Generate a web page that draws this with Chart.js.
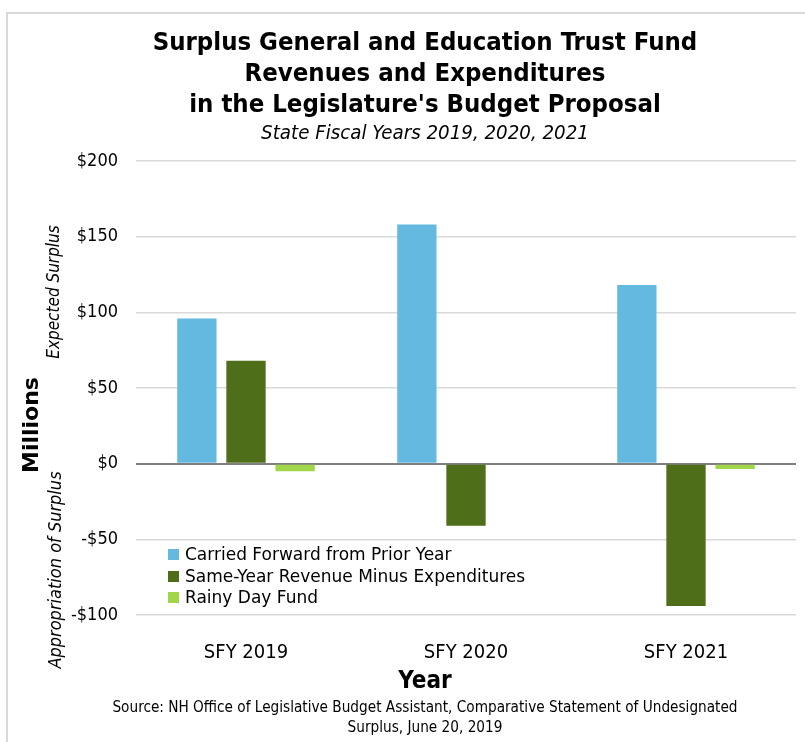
<!DOCTYPE html>
<html>
<head>
<meta charset="utf-8">
<script src="https://cdn.jsdelivr.net/npm/chart.js@4.4.0/dist/chart.umd.min.js"></script>
<style>
    body { margin: 0; background: #fff; }
    #wrap { position: relative; width: 805px; height: 742px; overflow: hidden; font-family: "DejaVu Sans Condensed", "DejaVu Sans", sans-serif; color: #000; }
    #frame { position: absolute; left: 6px; top: 12px; width: 820px; height: 760px; border: 2px solid #d9d9d9; box-sizing: border-box; }
    #chart { position: absolute; left: 0; top: 0; }
    .center { position: absolute; left: 25px; width: 800px; text-align: center; white-space: nowrap; }
    #title { top: 26px; font-weight: bold; font-size: 25.5px; line-height: 31px; }
    #subtitle { top: 120px; font-style: italic; font-size: 20.3px; line-height: 24px; }
    #xTitle { top: 665px; font-weight: bold; font-size: 24px; line-height: 30px; }
    #source { top: 697px; font-size: 15.2px; line-height: 20px; }
    .rot { position: absolute; white-space: nowrap; transform: translate(-50%, -50%) rotate(-90deg); }
    #yTitle { left: 30px; top: 425px; font-family: "DejaVu Sans", sans-serif; font-weight: bold; font-size: 22px; }
    #upper { left: 53px; top: 292px; font-style: italic; font-size: 17px; }
    #lower { left: 54px; top: 570px; font-style: italic; font-size: 18px; }
    #legend { position: absolute; left: 168px; top: 544px; font-family: "DejaVu Sans", sans-serif; font-size: 17px; line-height: 21.5px; }
    .legend-row { display: flex; align-items: center; white-space: nowrap; }
    .legend-box { width: 11px; height: 11px; margin-right: 6px; }
</style>
</head>
<body>
<div id="wrap">
    <div id="frame"></div>
    <canvas id="chart" width="805" height="742"></canvas>
    <div id="title" class="center">Surplus General and Education Trust Fund<br>Revenues and Expenditures<br>in the Legislature's Budget Proposal</div>
    <div id="subtitle" class="center">State Fiscal Years 2019, 2020, 2021</div>
    <div id="yTitle" class="rot">Millions</div>
    <div id="upper" class="rot">Expected Surplus</div>
    <div id="lower" class="rot">Appropriation of Surplus</div>
    <div id="legend"></div>
    <div id="xTitle" class="center">Year</div>
    <div id="source" class="center">Source: NH Office of Legislative Budget Assistant, Comparative Statement of Undesignated<br>Surplus, June 20, 2019</div>
</div>
<script>
// chart data
const years = ["SFY 2019", "SFY 2020", "SFY 2021"];
const seriesNames = ["Carried Forward from Prior Year", "Same-Year Revenue Minus Expenditures", "Rainy Day Fund"];
const carriedForward = [96, 158, 118];
const sameYear = [68, -41, -94];
const rainyDay = [-5, 0, -3.5];
const yTicks = [-100, -50, 0, 50, 100, 150, 200];
const barColors = ["#63b9e0", "#4f6e1a", "#a2d64a"];

// legend (HTML, inside the plot)
const legend = document.getElementById("legend");
seriesNames.forEach((name, i) => {
    const row = document.createElement("div");
    row.className = "legend-row";
    row.innerHTML = `<span class="legend-box" style="background:${barColors[i]}"></span>${name}`;
    legend.appendChild(row);
});

const allSeries = [carriedForward, sameYear, rainyDay];

new Chart(document.getElementById("chart").getContext("2d"), {
    type: "bar",
    data: {
        labels: years,
        datasets: allSeries.map((values, i) => ({
            label: seriesNames[i],
            data: values,
            backgroundColor: barColors[i],
            categoryPercentage: 0.67,
            barPercentage: 0.8,
        })),
    },
    options: {
        responsive: false,
        animation: false,
        layout: { padding: { top: 161, left: 0, right: 9, bottom: 67 } },
        plugins: {
            legend: { display: false },
            tooltip: { enabled: false },
        },
        scales: {
            x: {
                grid: { display: false },
                border: { display: false },
                ticks: {
                    padding: 18,
                    color: "#000",
                    font: { family: "DejaVu Sans Condensed", size: 20 },
                },
                afterFit: (scale) => { scale.height = 60; },
            },
            y: {
                min: -100,
                max: 200,
                border: { display: false },
                grid: {
                    drawTicks: false,
                    color: (ctx) => (ctx.tick && ctx.tick.value === 0 ? "#808080" : "#d9d9d9"),
                    lineWidth: (ctx) => (ctx.tick && ctx.tick.value === 0 ? 2 : 1.5),
                },
                afterBuildTicks: (scale) => { scale.ticks = yTicks.map((v) => ({ value: v })); },
                ticks: {
                    padding: 18,
                    color: "#000",
                    font: { family: "DejaVu Sans Condensed", size: 18 },
                    callback: (v) => (v < 0 ? "-$" + Math.abs(v) : "$" + v),
                },
                afterFit: (scale) => { scale.width = 136; },
            },
        },
    },
});
</script>
</body>
</html>
